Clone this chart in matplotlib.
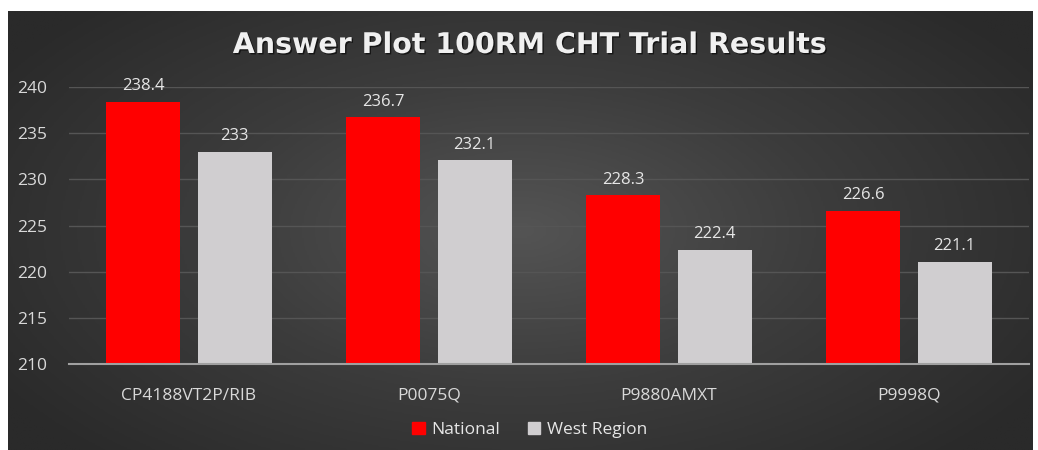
import matplotlib.pyplot as plt
import matplotlib.patheffects as pe
import numpy as np
from matplotlib.colors import LinearSegmentedColormap
from matplotlib.patches import Patch

categories = ["CP4188VT2P/RIB", "P0075Q", "P9880AMXT", "P9998Q"]
national = [238.4, 236.7, 228.3, 226.6]
west_region = [233, 232.1, 222.4, 221.1]
series_names = ["National", "West Region"]
y_ticks = [210, 215, 220, 225, 230, 235, 240]

plt.rcParams["font.family"] = ["Open Sans", "DejaVu Sans"]

W, H = 1038, 450
fig = plt.figure(figsize=(W / 100, H / 100), dpi=100)
fig.patch.set_facecolor("white")

# dark radial background panel
bg = fig.add_axes([8 / W, 0, (1033 - 8) / W, (H - 11) / H], zorder=0)
yy, xx = np.mgrid[-1:1:300j, -1:1:600j]
r = np.sqrt(xx ** 2 + (yy / 1.2) ** 2)
bg_cmap = LinearSegmentedColormap.from_list("bg", ["#545454", "#3c3c3c", "#2a2a2a"])
bg.imshow(np.clip(r, 0, 1.2), cmap=bg_cmap, vmin=0, vmax=1.2, aspect="auto",
          extent=[0, 1, 0, 1])
bg.axis("off")

ax = fig.add_axes([69 / W, 86 / H, (1029 - 69) / W, (364 - 87) / H], zorder=1)
ax.patch.set_alpha(0)

x = np.arange(len(categories))
bw = 0.308
off = 0.19
b1 = ax.bar(x - off, national, bw, color="#ff0000", zorder=2)
b2 = ax.bar(x + off, west_region, bw, color="#d0ced0", zorder=2)

for bars, vals in ((b1, national), (b2, west_region)):
    for rect, v in zip(bars, vals):
        ax.text(rect.get_x() + rect.get_width() / 2, v + 0.8, f"{v:g}",
                ha="center", va="bottom", color="#e6e6e6", fontsize=12)

ax.set_ylim(210, 240)
ax.set_xlim(-0.5, len(categories) - 0.5)
ax.set_yticks(y_ticks)
ax.set_xticks(x)
ax.set_xticklabels(categories)
ax.tick_params(axis="both", length=0, colors="#d9d9d9", labelsize=12.5)
ax.tick_params(axis="y", pad=16)
ax.tick_params(axis="x", pad=17)
ax.yaxis.grid(True, color="#555555", linewidth=1)
ax.set_axisbelow(True)
for s in ("top", "right", "left"):
    ax.spines[s].set_visible(False)
ax.spines["bottom"].set_color("#a0a0a0")
ax.spines["bottom"].set_linewidth(1.5)
ax.spines["bottom"].set_zorder(3)

fig.text(530 / W, 1 - 45 / H, "Answer Plot 100RM CHT Trial Results", ha="center",
         va="center", color="#f0f0f0", fontsize=20.5, fontweight="bold",
         family="DejaVu Sans",
         path_effects=[pe.withSimplePatchShadow(offset=(1, -1), shadow_rgbFace="black",
                                               alpha=0.6)])

handles = [Patch(color="#ff0000"), Patch(color="#d0ced0")]
fig.legend(handles, series_names, loc="center", bbox_to_anchor=(530 / W, 1 - 430 / H),
           ncol=2, frameon=False, labelcolor="#e6e6e6", fontsize=12.5,
           handlelength=0.7, handleheight=0.7, handletextpad=0.4, columnspacing=1.6)

fig.savefig("out.png", dpi=100)
